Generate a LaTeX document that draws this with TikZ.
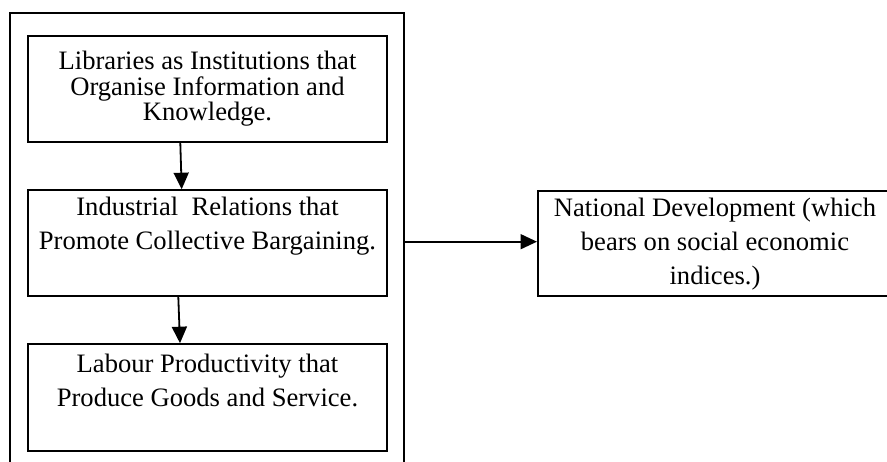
\documentclass[tikz,border=0pt]{standalone}
\usepackage{fontspec}
\setmainfont{Liberation Serif}
\usetikzlibrary{arrows.meta}
\begin{document}
\begin{tikzpicture}[x=1pt,y=1pt,
  box/.style={draw=black, line width=1.6pt, rectangle, inner sep=0pt},
  frame/.style={draw=black, line width=1.9pt, rectangle, inner sep=0pt},
  txt/.style={font=\fontsize{26.6}{34}\selectfont, align=center, inner sep=0pt, anchor=base},
  txttight/.style={font=\fontsize{26.6}{25.5}\selectfont, align=center, inner sep=0pt, anchor=base},
  arr/.style={line width=1.8pt, -{Triangle[length=16.5pt,width=15pt]}}]
\useasboundingbox (0,0) rectangle (887,461);
\clip (0,0) rectangle (887,461);
% outer frame (bottom runs off the picture)
\node[frame, minimum width=394pt, minimum height=468pt] (outer) at (207,214) {};
% boxes
\node[box, minimum width=359pt, minimum height=106pt] (b1) at (207.5,372) {};
\node[box, minimum width=359pt, minimum height=106pt] (b2) at (207.5,218) {};
\node[box, minimum width=359pt, minimum height=107pt] (b3) at (207.5,63.5) {};
\node[box, minimum width=380pt, minimum height=105pt, anchor=west] (b4) at (537,217.5) {};
% texts (anchored at the baseline of the last line)
\node[txttight] (t1) at (207.5,340) {Libraries as Institutions that\\Organise Information and\\Knowledge.};
\node[txt] (t2) at (207.5,211) {Industrial\ \ Relations that\\Promote Collective Bargaining.};
\node[txt] (t3) at (207.5,55) {Labour Productivity that\\Produce Goods and Service.};
\node[txt] (t4) at (715,176) {National Development (which\\bears on social economic\\indices.)};
% connectors
\draw[arr] ([xshift=-27.2pt]b1.south) -- ([xshift=-25.8pt]b2.north);
\draw[arr] ([xshift=-29.2pt]b2.south) -- ([xshift=-27.5pt]b3.north);
\draw[arr] ([yshift=1.8pt]b4.west -| outer.east) -- ([yshift=1.8pt]b4.west);
\end{tikzpicture}
\end{document}
